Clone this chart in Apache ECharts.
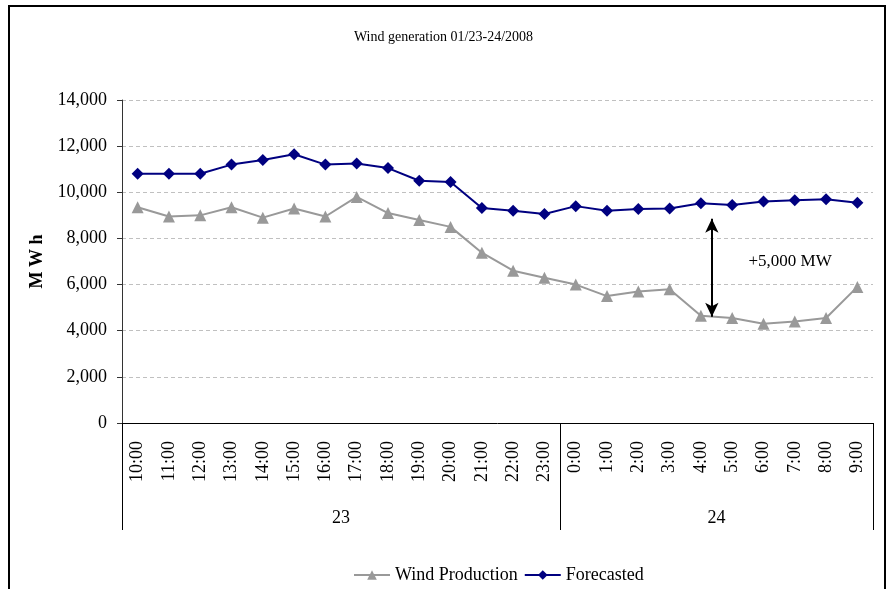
<!DOCTYPE html>
<html>
<head>
<meta charset="utf-8">
<script src="https://cdn.jsdelivr.net/npm/echarts@6/dist/echarts.min.js"></script>
<style>
html,body{margin:0;padding:0;background:#fff;}
#chart{width:887px;height:589px;}
</style>
</head>
<body>
<div id="chart"></div>
<script>
var hours = ['10:00','11:00','12:00','13:00','14:00','15:00','16:00','17:00','18:00','19:00','20:00','21:00','22:00','23:00',
             '0:00','1:00','2:00','3:00','4:00','5:00','6:00','7:00','8:00','9:00'];
var days = ['23','24'];
var dayHourCounts = [14, 10];
var windProduction = [9350,8950,9000,9350,8900,9300,8950,9800,9100,8800,8500,7380,6600,6300,
                      6000,5500,5700,5800,4650,4550,4300,4400,4550,5900];
var forecasted = [10800,10800,10800,11200,11400,11650,11200,11250,11050,10500,10450,9320,9200,9060,
                  9400,9200,9280,9300,9520,9450,9600,9650,9700,9550];
var yTicks = {min: 0, max: 14000, interval: 2000};
var gapArrow = {x: 18.35, top: 8850, bottom: 4600};
var gapNote = {x: 20.85, y: 7000, text: '+5,000 MW'};

var serif = '"Liberation Serif", "Times New Roman", serif';

// day boundaries and centres derived from day hour counts
var dayBounds = [-0.5];
var dayCentres = [];
var acc = -0.5;
dayHourCounts.forEach(function (c) {
  dayCentres.push(acc + c / 2);
  acc += c;
  dayBounds.push(acc);
});

var chart = echarts.init(document.getElementById('chart'));
chart.setOption({
  animation: false,
  backgroundColor: '#fff',
  title: {
    text: 'Wind generation 01/23-24/2008',
    left: 'center',
    top: 25,
    textStyle: {fontFamily: serif, fontSize: 14, fontWeight: 'normal', color: '#000'}
  },
  graphic: [{
    type: 'rect',
    shape: {x: 9, y: 6, width: 876, height: 600},
    style: {fill: 'none', stroke: '#000', lineWidth: 2},
    silent: true
  }],
  legend: {
    left: 348,
    top: 561,
    itemWidth: 36,
    itemHeight: 12,
    itemGap: 6,
    textStyle: {fontFamily: serif, fontSize: 18, color: '#000'},
    data: ['Wind Production', 'Forecasted']
  },
  grid: {left: 122, right: 14, top: 100, bottom: 166},
  xAxis: [{
    type: 'category',
    data: hours,
    boundaryGap: true,
    axisLine: {show: true, onZero: false, lineStyle: {color: '#000', width: 1}},
    axisTick: {show: false},
    axisLabel: {
      rotate: 90, interval: 0, margin: 18,
      fontFamily: serif, fontSize: 18, color: '#000'
    },
    splitLine: {show: false}
  }, {
    type: 'value',
    position: 'bottom',
    min: -0.5,
    max: hours.length - 0.5,
    axisLine: {show: false, onZero: false},
    axisTick: {
      show: true, customValues: dayBounds, length: 107, inside: false,
      lineStyle: {color: '#000', width: 1}
    },
    axisLabel: {
      show: true, customValues: dayCentres, margin: 86,
      fontFamily: serif, fontSize: 18, color: '#000',
      formatter: function (v) {
        var i = dayCentres.indexOf(v);
        return i >= 0 ? days[i] : '';
      }
    },
    splitLine: {show: false}
  }],
  yAxis: {
    type: 'value',
    min: yTicks.min, max: yTicks.max, interval: yTicks.interval,
    name: 'M W h',
    nameLocation: 'middle',
    nameRotate: 90,
    nameGap: 68,
    nameTextStyle: {fontFamily: serif, fontSize: 18, fontWeight: 'bold', color: '#000'},
    axisLine: {show: true, onZero: false, lineStyle: {color: '#333', width: 1}},
    axisTick: {show: true, length: 5, lineStyle: {color: '#333'}},
    axisLabel: {
      margin: 15, fontFamily: serif, fontSize: 18, color: '#000',
      formatter: function (v) { return v.toLocaleString('en-US'); }
    },
    splitLine: {show: true, lineStyle: {color: '#c0c0c0', type: [4, 3], width: 1}}
  },
  series: [{
    name: 'Wind Production',
    type: 'line',
    data: windProduction,
    symbol: 'triangle',
    symbolSize: 12,
    itemStyle: {color: '#999999'},
    lineStyle: {color: '#999999', width: 2}
  }, {
    name: 'Forecasted',
    type: 'line',
    data: forecasted,
    symbol: 'diamond',
    symbolSize: 12,
    itemStyle: {color: '#000080'},
    lineStyle: {color: '#000080', width: 2}
  }, {
    name: 'annotation',
    type: 'line',
    xAxisIndex: 1,
    data: [],
    silent: true,
    markLine: {
      silent: true,
      symbol: ['arrow', 'arrow'],
      symbolSize: [10, 14],
      label: {show: false},
      lineStyle: {color: '#000', width: 2, type: 'solid'},
      data: [[{coord: [gapArrow.x, gapArrow.top]}, {coord: [gapArrow.x, gapArrow.bottom]}]]
    },
    markPoint: {
      silent: true,
      symbol: 'circle',
      symbolSize: 0,
      label: {
        show: true, position: 'inside',
        fontFamily: serif, fontSize: 17, color: '#000',
        formatter: gapNote.text
      },
      data: [{coord: [gapNote.x, gapNote.y]}]
    }
  }]
});
</script>
</body>
</html>
